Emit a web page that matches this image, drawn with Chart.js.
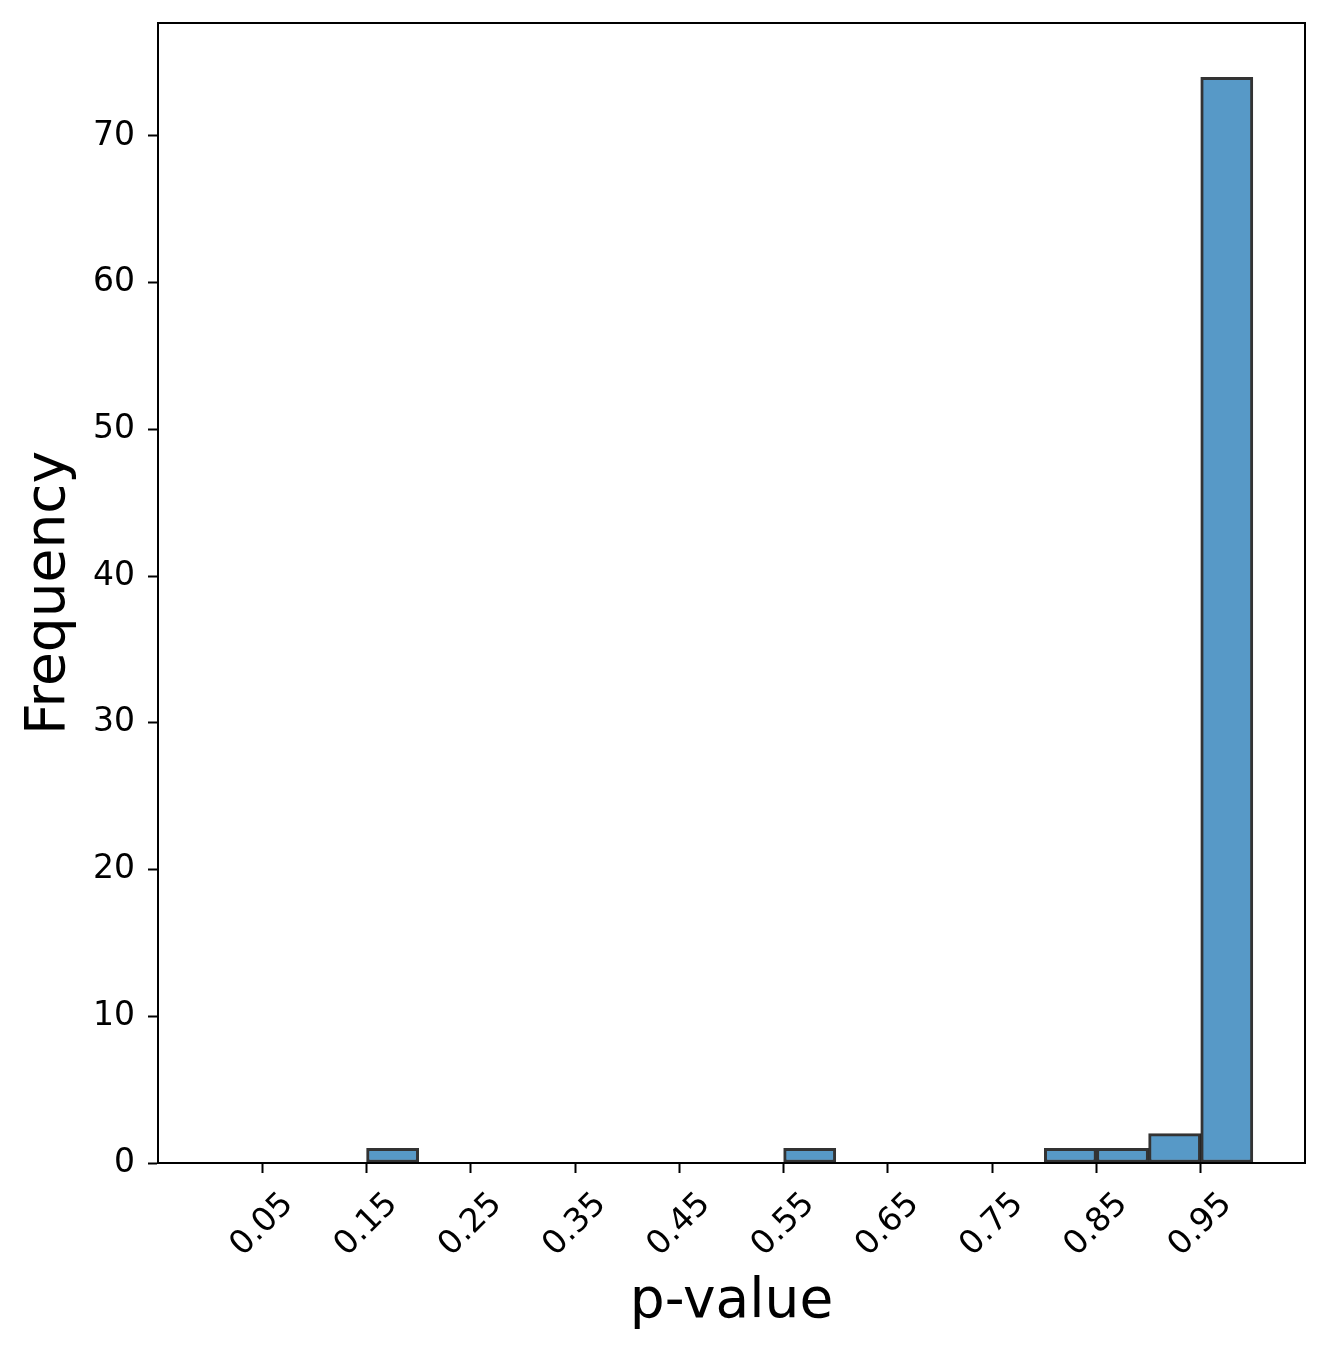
<!DOCTYPE html>
<html lang="en">
<head>
  <meta charset="UTF-8">
  <title>p-value histogram</title>
  <script src="https://cdn.jsdelivr.net/npm/chart.js"></script>
  <style>
    body { margin: 0; background: #fff; }
  </style>
</head>
<body>
<canvas id="histChart" width="1330" height="1356"></canvas>

<script>
  // bin centres (bins are 0.05 wide, from 0 to 1)
  var binCentres = [0.025, 0.075, 0.125, 0.175, 0.225, 0.275, 0.325, 0.375, 0.425, 0.475,
                    0.525, 0.575, 0.625, 0.675, 0.725, 0.775, 0.825, 0.875, 0.925, 0.975];
  var counts = [0, 0, 0, 1, 0, 0, 0, 0, 0, 0,
                0, 1, 0, 0, 0, 0, 1, 1, 2, 74];
  var xTicks = [0.05, 0.15, 0.25, 0.35, 0.45, 0.55, 0.65, 0.75, 0.85, 0.95];
  var yTicks = [0, 10, 20, 30, 40, 50, 60, 70];

  var font = "'DejaVu Sans', sans-serif";

  // draw the top and right spines
  var boxPlugin = {
    id: 'box',
    afterDraw: function(chart) {
      var a = chart.chartArea, c = chart.ctx;
      c.save();
      c.strokeStyle = '#000';
      c.lineWidth = 2;
      c.strokeRect(a.left, a.top, a.right - a.left, a.bottom - a.top);
      c.restore();
    }
  };

  var ctx = document.getElementById('histChart').getContext('2d');
  new Chart(ctx, {
    type: 'bar',
    data: {
      datasets: [{
        label: 'Frequency',
        data: binCentres.map(function(x, i) { return { x: x, y: counts[i] }; }),
        backgroundColor: '#5799c7',
        borderColor: 'rgba(0,0,0,0.8)',
        borderWidth: 3,
        borderSkipped: false,
        barPercentage: 1,
        categoryPercentage: 1
      }]
    },
    plugins: [boxPlugin],
    options: {
      responsive: false,
      animation: false,
      layout: { padding: { top: 23, right: 25, left: 0, bottom: 0 } },
      plugins: { legend: { display: false }, tooltip: { enabled: false } },
      scales: {
        x: {
          type: 'linear',
          offset: false,
          min: -0.05,
          max: 1.05,
          afterBuildTicks: function(axis) {
            axis.ticks = xTicks.map(function(v) { return { value: v }; });
          },
          afterFit: function(axis) {
            axis.height = 193;
            axis.paddingLeft = 0;
            axis.paddingRight = 0;
          },
          ticks: {
            minRotation: 45,
            maxRotation: 45,
            color: '#000',
            font: { family: font, size: 33 },
            padding: 12,
            labelOffset: 26,
            callback: function(v) { return v.toFixed(2); }
          },
          grid: { offset: false, drawOnChartArea: false, tickLength: 10, tickWidth: 2, tickColor: '#000' },
          border: { color: '#000', width: 2 },
          title: {
            display: true,
            text: 'p-value',
            color: '#000',
            font: { family: font, size: 55 },
            padding: { top: 0, bottom: 20 }
          }
        },
        y: {
          min: 0,
          max: 77.7,
          afterBuildTicks: function(axis) {
            axis.ticks = yTicks.map(function(v) { return { value: v }; });
          },
          afterFit: function(axis) {
            axis.width = 158;
            axis.paddingTop = 0;
            axis.paddingBottom = 0;
          },
          ticks: {
            color: '#000',
            font: { family: font, size: 33 },
            padding: 13
          },
          grid: { drawOnChartArea: false, tickLength: 10, tickWidth: 2, tickColor: '#000' },
          border: { color: '#000', width: 2 },
          title: {
            display: true,
            text: 'Frequency',
            color: '#000',
            font: { family: font, size: 55 },
            padding: { top: 17, bottom: 0 }
          }
        }
      }
    }
  });
</script>
</body>
</html>
